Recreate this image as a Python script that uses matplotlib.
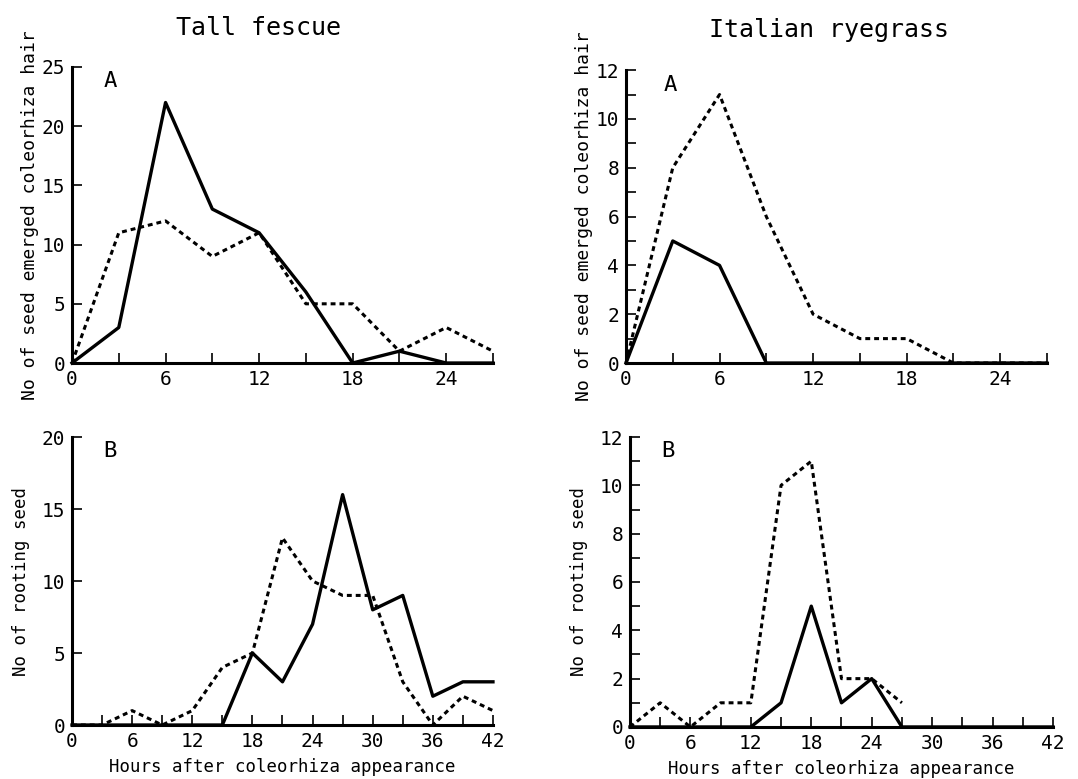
import matplotlib
matplotlib.use("Agg")
import matplotlib.pyplot as plt
from matplotlib.ticker import MultipleLocator

plt.rcParams['font.family'] = ['DejaVu Sans Mono']

# hours after coleorhiza appearance
hours_a = [0, 3, 6, 9, 12, 15, 18, 21, 24, 27]
hours_b = [0, 3, 6, 9, 12, 15, 18, 21, 24, 27, 30, 33, 36, 39, 42]

# Tall fescue
fescue_a_solid = [0, 3, 22, 13, 11, 6, 0, 1, 0, 0]
fescue_a_dot = [0, 11, 12, 9, 11, 5, 5, 1, 3, 1]
fescue_b_solid = [0, 0, 0, 0, 0, 0, 5, 3, 7, 16, 8, 9, 2, 3, 3]
fescue_b_dot = [0, 0, 1, 0, 1, 4, 5, 13, 10, 9, 9, 3, 0, 2, 1]

# Italian ryegrass
rye_a_solid = [0, 5, 4, 0, 0, 0, 0, 0, 0, 0]
rye_a_dot = [0, 8, 11, 6, 2, 1, 1, 0, 0, 0]
rye_b_solid = [0, 0, 0, 0, 0, 1, 5, 1, 2, 0, 0, 0, 0, 0, 0]
rye_b_dot = [0, 1, 0, 1, 1, 10, 11, 2, 2, 1]

fig = plt.figure(figsize=(10.78, 7.79), dpi=100)
ax_tl = fig.add_axes([0.0668, 0.534, 0.3905, 0.380])
ax_tr = fig.add_axes([0.5807, 0.534, 0.3905, 0.376])
ax_bl = fig.add_axes([0.0668, 0.0693, 0.3905, 0.3697])
ax_br = fig.add_axes([0.5844, 0.0668, 0.3924, 0.3722])

dot = (0, (1.6, 1.3))


def style(ax, xmax, ymax, ymajor, yminor, xmajor, label, ylabel, ysize, lx, lpad):
    ax.set_xlim(0, xmax)
    ax.set_ylim(0, ymax)
    for s in ['top', 'right']:
        ax.spines[s].set_visible(False)
    for s in ['left', 'bottom']:
        ax.spines[s].set_linewidth(2.2)
    ax.xaxis.set_major_locator(MultipleLocator(xmajor))
    ax.xaxis.set_minor_locator(MultipleLocator(3))
    ax.yaxis.set_major_locator(MultipleLocator(ymajor))
    if yminor:
        ax.yaxis.set_minor_locator(MultipleLocator(yminor))
    ax.tick_params(which='both', direction='in', width=1.2, labelsize=14)
    ax.tick_params(axis='y', pad=5)
    ax.tick_params(axis='x', pad=5)
    ax.tick_params(which='major', length=7)
    ax.tick_params(which='minor', length=7)
    ax.text(lx, 0.985, label, transform=ax.transAxes, fontsize=16,
            va='top', ha='center')
    ax.set_ylabel(ylabel, fontsize=ysize, labelpad=lpad)


# Tall fescue A
ax_tl.plot(hours_a, fescue_a_solid, color='black', lw=2.4, clip_on=False)
ax_tl.plot(hours_a, fescue_a_dot, color='black', lw=2.2, linestyle=dot, clip_on=False)
style(ax_tl, 27, 25, 5, None, 6, 'A', 'No of seed emerged coleorhiza hair', 13, 0.09, 2)
fig.text(258 / 1078, 1 - 28 / 779, 'Tall fescue', fontsize=18, ha='center', va='center')

# Italian ryegrass A
ax_tr.plot(hours_a, rye_a_solid, color='black', lw=2.4, clip_on=False)
ax_tr.plot(hours_a, rye_a_dot, color='black', lw=2.2, linestyle=dot, clip_on=False)
style(ax_tr, 27, 12, 2, 1, 6, 'A', 'No of seed emerged coleorhiza hair', 13, 0.105, 2)
fig.text(829 / 1078, 1 - 30 / 779, 'Italian ryegrass', fontsize=18, ha='center', va='center')

# Tall fescue B
ax_bl.plot(hours_b, fescue_b_solid, color='black', lw=2.4, clip_on=False)
ax_bl.plot(hours_b, fescue_b_dot, color='black', lw=2.2, linestyle=dot, clip_on=False)
style(ax_bl, 42, 20, 5, None, 6, 'B', 'No of rooting seed', 12.5, 0.09, 8)
ax_bl.set_xlabel('Hours after coleorhiza appearance', fontsize=12.5, labelpad=5)

# Italian ryegrass B
ax_br.plot(hours_b, rye_b_solid, color='black', lw=2.4, clip_on=False)
ax_br.plot(hours_b[:len(rye_b_dot)], rye_b_dot, color='black', lw=2.2, linestyle=dot, clip_on=False)
style(ax_br, 42, 12, 2, 1, 6, 'B', 'No of rooting seed', 12.5, 0.09, 8)
ax_br.set_xlabel('Hours after coleorhiza appearance', fontsize=12.5, labelpad=5)

fig.savefig('out.png', dpi=100)
